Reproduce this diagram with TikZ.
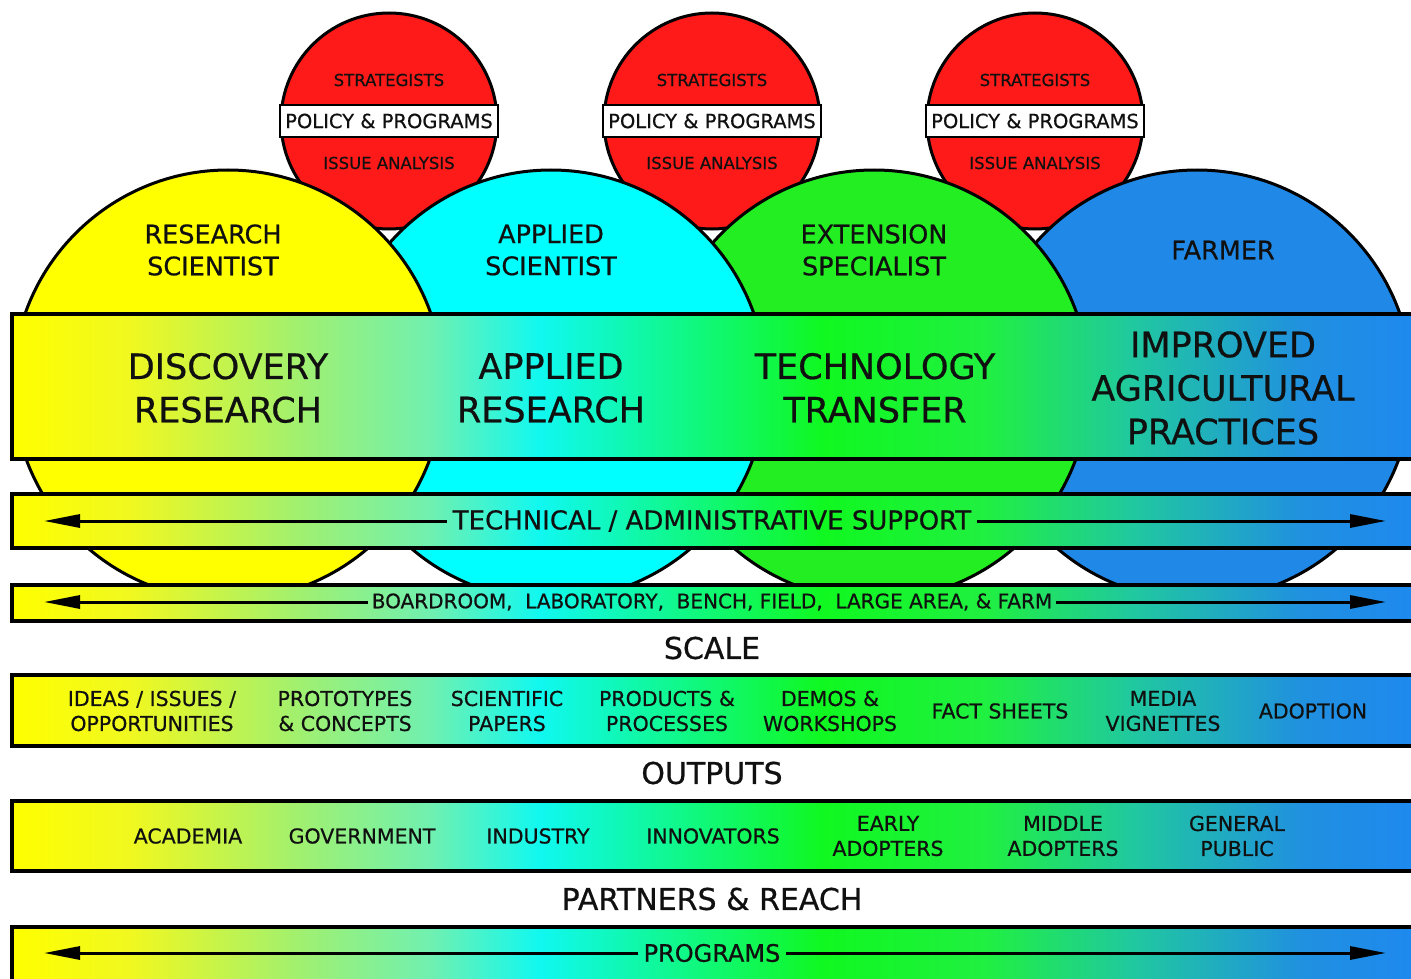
\documentclass[tikz,border=0pt]{standalone}
\usepackage{fontspec}
\setmainfont{DejaVu Sans}[FakeBold=0.6]
\newfontfamily\cfont{DejaVu Sans}[FakeBold=0.6]
\usetikzlibrary{arrows.meta}
\definecolor{cY}{HTML}{FFFF00}
\definecolor{cC}{HTML}{00FFFF}
\definecolor{cG}{HTML}{22EE22}
\definecolor{cB}{HTML}{2088E6}
\definecolor{cR}{HTML}{FF1A1A}
\definecolor{g0}{HTML}{F0F820}
\definecolor{g1}{HTML}{A0F070}
\definecolor{g2}{HTML}{70F0B0}
\definecolor{g3}{HTML}{10F8F0}
\definecolor{g4}{HTML}{10F820}
\definecolor{g5}{HTML}{20F040}
\definecolor{g6}{HTML}{20C8A0}
\definecolor{g7}{HTML}{2090E0}
\definecolor{g8}{HTML}{1E88F0}
\definecolor{ink}{HTML}{101010}
\pgfdeclarehorizontalshading{bandshade}{100bp}{color(0bp)=(cY); color(25bp)=(cY); color(29.2bp)=(g0); color(35.2bp)=(g1); color(39.8bp)=(g2); color(43.7bp)=(g3); color(53.7bp)=(g4); color(59.4bp)=(g5); color(64.7bp)=(g6); color(70.7bp)=(g7); color(75bp)=(g8); color(100bp)=(g8)}
\begin{document}
\begin{tikzpicture}[x=1pt,y=-1pt,
  redc/.style={draw=black,line width=3pt,fill=cR},
  bigc/.style={draw=black,line width=3pt},
  band/.style={draw=black,line width=3.5pt,shading=bandshade},
  polbox/.style={draw=black,line width=2.5pt,fill=white,minimum width=218pt,minimum height=32pt,inner sep=0pt,font=\cfont\fontsize{19.5}{22}\selectfont,text=ink},
  smalltxt/.style={font=\cfont\fontsize{16.5}{18}\selectfont,text=ink,inner sep=0pt},
  whotxt/.style={font=\cfont\fontsize{25.5}{32}\selectfont,align=center,text=ink,inner sep=0pt},
  bigtxt/.style={font=\cfont\fontsize{35}{43.5}\selectfont,align=center,text=ink,inner sep=0pt},
  techtxt/.style={font=\cfont\fontsize{26}{28}\selectfont,text=ink,inner xsep=6pt,inner ysep=0pt},
  progtxt/.style={font=\cfont\fontsize{24}{28}\selectfont,text=ink,inner xsep=5pt,inner ysep=0pt},
  boardtxt/.style={font=\cfont\fontsize{20}{22}\selectfont,text=ink,inner xsep=4pt,inner ysep=0pt},
  headtxt/.style={font=\cfont\fontsize{30}{32}\selectfont,text=ink,inner sep=0pt},
  itemtxt/.style={font=\cfont\fontsize{20.5}{25}\selectfont,align=center,text=ink,inner sep=0pt},
  arr/.style={line width=3pt,-{Triangle[length=36pt,width=13pt]}}]
\useasboundingbox (0,0) rectangle (1411,979);
\fill[white] (0,0) rectangle (1411,979);
% red circles
\foreach \cx/\n in {389/1,712/2,1035/3}{
  \draw[redc] (\cx,121) circle [radius=108];
  \node[polbox] (pp\n) at (\cx,121) {POLICY \& PROGRAMS};
  \node[smalltxt] (st\n) at (\cx,80) {STRATEGISTS};
  \node[smalltxt] (ia\n) at (\cx,163) {ISSUE ANALYSIS};
}
% big circles
\draw[bigc,fill=cB] (1197,385) circle [radius=215];
\draw[bigc,fill=cG] (874,385) circle [radius=215];
\draw[bigc,fill=cC] (551,385) circle [radius=215];
\draw[bigc,fill=cY] (228,385) circle [radius=215];
\node[whotxt] (rs) at (213,250) {RESEARCH\\SCIENTIST};
\node[whotxt] (as) at (551,250) {APPLIED\\SCIENTIST};
\node[whotxt] (es) at (874,250) {EXTENSION\\SPECIALIST};
\node[whotxt] (fa) at (1223,250) {FARMER};
% main band
\draw[band,line width=4pt] (12,314) rectangle (1425,459);
\node[bigtxt] (dr) at (228,388) {DISCOVERY\\RESEARCH};
\node[bigtxt] (ar) at (551,388) {APPLIED\\RESEARCH};
\node[bigtxt] (tt) at (875,388) {TECHNOLOGY\\TRANSFER};
\node[bigtxt] (ia) at (1223,388) {IMPROVED\\AGRICULTURAL\\PRACTICES};
% technical band
\draw[band] (12,494) rectangle (1425,548);
\node[techtxt] (tech) at (712,521) {TECHNICAL / ADMINISTRATIVE SUPPORT};
\coordinate (techL) at (44,521);
\coordinate (techR) at (1386,521);
\draw[arr] (tech.west) -- (techL);
\draw[arr] (tech.east) -- (techR);
% boardroom band
\draw[band] (12,585) rectangle (1425,621);
\node[boardtxt] (board) at (712,602) {BOARDROOM,\ \ LABORATORY,\ \ BENCH, FIELD,\ \ LARGE AREA, \& FARM};
\coordinate (boardL) at (44,602);
\coordinate (boardR) at (1386,602);
\draw[arr] (board.west) -- (boardL);
\draw[arr] (board.east) -- (boardR);
\node[headtxt] (scale) at (712,648) {SCALE};
% outputs band
\draw[band] (12,675) rectangle (1425,746);
\node[itemtxt] (o1) at (152,711) {IDEAS / ISSUES /\\OPPORTUNITIES};
\node[itemtxt] (o2) at (345,711) {PROTOTYPES\\\& CONCEPTS};
\node[itemtxt] (o3) at (507,711) {SCIENTIFIC\\PAPERS};
\node[itemtxt] (o4) at (667,711) {PRODUCTS \&\\PROCESSES};
\node[itemtxt] (o5) at (830,711) {DEMOS \&\\WORKSHOPS};
\node[itemtxt] (o6) at (1000,711) {FACT SHEETS};
\node[itemtxt] (o7) at (1163,711) {MEDIA\\VIGNETTES};
\node[itemtxt] (o8) at (1313,711) {ADOPTION};
\node[headtxt] (outputs) at (712,773) {OUTPUTS};
% partners band
\draw[band] (12,801) rectangle (1425,871);
\node[itemtxt] (p1) at (188,836) {ACADEMIA};
\node[itemtxt] (p2) at (362,836) {GOVERNMENT};
\node[itemtxt] (p3) at (538,836) {INDUSTRY};
\node[itemtxt] (p4) at (713,836) {INNOVATORS};
\node[itemtxt] (p5) at (888,836) {EARLY\\ADOPTERS};
\node[itemtxt] (p6) at (1063,836) {MIDDLE\\ADOPTERS};
\node[itemtxt] (p7) at (1237,836) {GENERAL\\PUBLIC};
\node[headtxt] (partners) at (712,899) {PARTNERS \& REACH};
% programs band
\draw[band] (12,927) rectangle (1425,990);
\node[progtxt] (prog) at (712,953) {PROGRAMS};
\coordinate (progL) at (44,953);
\coordinate (progR) at (1386,953);
\draw[arr] (prog.west) -- (progL);
\draw[arr] (prog.east) -- (progR);
\end{tikzpicture}
\end{document}
